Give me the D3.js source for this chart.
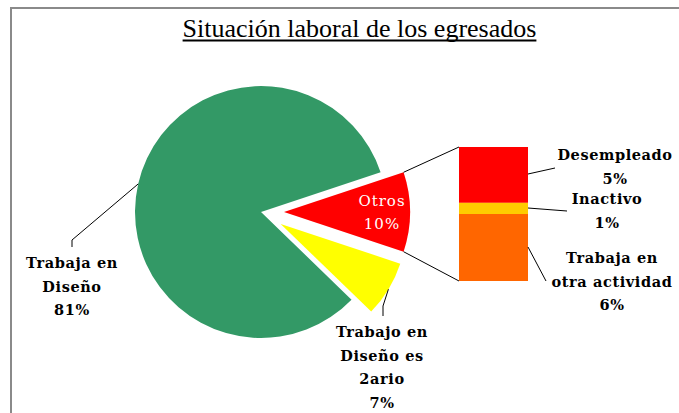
<!DOCTYPE html>
<html>
<head>
<meta charset="utf-8">
<script src="https://cdn.jsdelivr.net/npm/d3@7"></script>
<style>
  body { margin: 0; background: #fff; }
  svg { display: block; }
  .lbl { font-family: "DejaVu Serif", serif; font-weight: bold; font-size: 14.5px; letter-spacing: 0.6px; fill: #000; }
</style>
</head>
<body>
<div id="chart"></div>
<script>
// main pie
let pieNames = ['Otros', 'Trabajo en Diseño es 2ario', 'Trabaja en Diseño'];
let pieValues = [10, 7, 81];
let pieColors = ['#ff0000', '#ffff00', '#339966'];
let pieLabels = [['Otros', '10%'], ['Trabajo en', 'Diseño es', '2ario', '7%'], ['Trabaja en', 'Diseño', '81%']];

// bar of "Otros"
let barNames = ['Desempleado', 'Inactivo', 'Trabaja en otra actividad'];
let barValues = [5, 1, 6];
let barColors = ['#ff0000', '#ffcc00', '#ff6600'];
let barLabels = [['Desempleado', '5%'], ['Inactivo', '1%'], ['Trabaja en', 'otra actividad', '6%']];

let title = 'Situación laboral de los egresados';

let width = 679, height = 413;
let cx = 261, cy = 212, r = 126;
let explode = [23, 23, 0];

let svg = d3.select('#chart').append('svg')
    .attr('width', width)
    .attr('height', height);

// chart frame (only top/left edges visible)
svg.append('line').attr('x1', 10).attr('x2', width).attr('y1', 8).attr('y2', 8)
    .attr('stroke', '#8a8a8a').attr('stroke-width', 2);
svg.append('line').attr('x1', 11).attr('x2', 11).attr('y1', 7).attr('y2', height)
    .attr('stroke', '#8a8a8a').attr('stroke-width', 2);

// title
let tt = svg.append('text')
    .attr('x', 359.5).attr('y', 37)
    .attr('text-anchor', 'middle')
    .style('font-family', '"Liberation Serif", serif')
    .style('font-size', '26px')
    .text(title);
let tb = tt.node().getBBox();
svg.append('line')
    .attr('x1', tb.x).attr('x2', tb.x + tb.width)
    .attr('y1', 40.5).attr('y2', 40.5)
    .attr('stroke', '#000').attr('stroke-width', 2);

let total = d3.sum(pieValues);
let a0 = Math.PI / 2 - (pieValues[0] / total) * Math.PI;

let pie = d3.pie().sort(null).startAngle(a0).endAngle(a0 + 2 * Math.PI);
let arcs = pie(pieValues);
let arc = d3.arc().innerRadius(0).outerRadius(r);

function offset(d, i) {
    let m = (d.startAngle + d.endAngle) / 2;
    return [cx + explode[i] * Math.sin(m), cy - explode[i] * Math.cos(m)];
}
function onArc(d, i, ang, rad) {
    let o = offset(d, i);
    return [o[0] + rad * Math.sin(ang), o[1] - rad * Math.cos(ang)];
}

svg.selectAll('path.slice')
    .data(arcs)
    .enter().append('path')
    .attr('class', 'slice')
    .attr('transform', (d, i) => 'translate(' + offset(d, i) + ')')
    .attr('d', arc)
    .attr('fill', (d, i) => pieColors[i]);

// bar of pie
let barX = 459, barW = 69;
let barY = d3.scaleLinear().domain([0, d3.sum(barValues)]).range([147, 281]);
let stacked = [];
let acc = 0;
barValues.forEach((v, i) => { stacked.push({ y0: acc, y1: acc + v, i: i }); acc += v; });

svg.selectAll('rect.bar')
    .data(stacked)
    .enter().append('rect')
    .attr('class', 'bar')
    .attr('x', barX)
    .attr('width', barW)
    .attr('y', d => barY(d.y0))
    .attr('height', d => barY(d.y1) - barY(d.y0))
    .attr('fill', d => barColors[d.i]);

// connector lines from Otros slice to bar
let otros = arcs[0];
let pTop = onArc(otros, 0, otros.startAngle, r);
let pBot = onArc(otros, 0, otros.endAngle, r);
svg.append('line').attr('x1', pTop[0]).attr('y1', pTop[1])
    .attr('x2', barX).attr('y2', barY(0)).attr('stroke', '#000');
svg.append('line').attr('x1', pBot[0]).attr('y1', pBot[1])
    .attr('x2', barX).attr('y2', barY(acc)).attr('stroke', '#000');

function multiline(x, y, lines, cls, step) {
    let t = svg.append('text').attr('class', cls).attr('text-anchor', 'middle');
    lines.forEach((s, k) => {
        t.append('tspan').attr('x', x).attr('y', y + k * step).text(s);
    });
    return t;
}

// Otros label inside red slice
multiline(382, 206, pieLabels[0], 'lbl', 23)
    .style('fill', '#fff').style('font-weight', 'normal').style('font-size', '15px').style('letter-spacing', '1px');

// leader for yellow slice
let ym = (arcs[1].startAngle + arcs[1].endAngle) / 2;
let yp = onArc(arcs[1], 1, ym, r);
svg.append('polyline')
    .attr('points', [yp, [383, 306], [383, 316]].map(p => p.join(',')).join(' '))
    .attr('fill', 'none').attr('stroke', '#000');
multiline(382, 337, pieLabels[1], 'lbl', 23.5);

// leader for green slice
let gm = (arcs[2].startAngle + arcs[2].endAngle) / 2;
let gp = onArc(arcs[2], 2, gm, r);
svg.append('polyline')
    .attr('points', [gp, [72, 240], [72, 247]].map(p => p.join(',')).join(' '))
    .attr('fill', 'none').attr('stroke', '#000');
multiline(72, 268, pieLabels[2], 'lbl', 23.5);

// bar labels
let barLabelPos = [[615, 160], [607, 204], [612, 263]];
let barLeaderEnd = [[555, 168], [567, 211], [546, 281]];
let barLeaderStart = [[barX + barW, 174], [barX + barW, 208], [barX + barW, 247]];
stacked.forEach((d, i) => {
    svg.append('line')
        .attr('x1', barLeaderStart[i][0]).attr('y1', barLeaderStart[i][1])
        .attr('x2', barLeaderEnd[i][0]).attr('y2', barLeaderEnd[i][1])
        .attr('stroke', '#000');
    multiline(barLabelPos[i][0], barLabelPos[i][1], barLabels[i], 'lbl', 23.5);
});
</script>
</body>
</html>
